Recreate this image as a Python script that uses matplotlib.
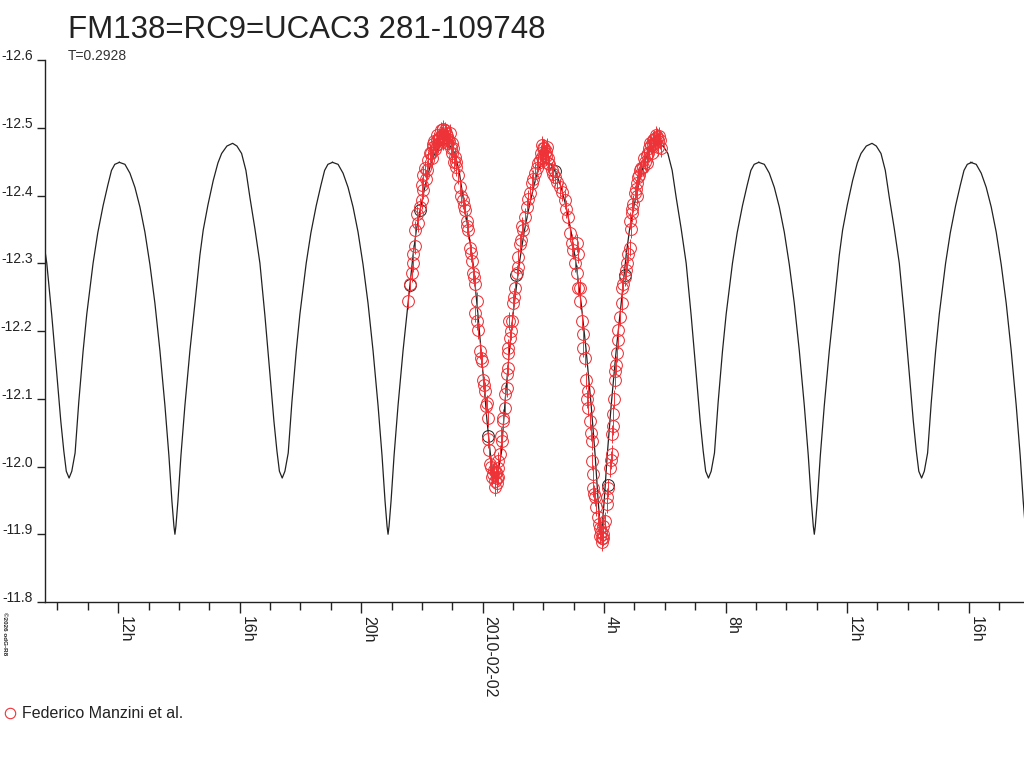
import numpy as np
import matplotlib
matplotlib.use('Agg')
import matplotlib.pyplot as plt
from matplotlib.lines import Line2D
from matplotlib.ticker import MultipleLocator

plt.rcParams['font.family'] = ['Liberation Sans', 'DejaVu Sans']

# model light curve, one cycle (hours from primary minimum, magnitude)
phase_h = [-1.834, -1.646, -1.482, -1.317, -1.152, -0.988, -0.823, -0.659, -0.494,
           -0.329, -0.198, -0.099, -0.033, 0.000, 0.033, 0.099, 0.198, 0.329, 0.494,
           0.659, 0.823, 0.932, 1.087, 1.261, 1.416, 1.538, 1.712, 1.900, 2.042,
           2.196, 2.338, 2.470, 2.634, 2.799, 2.963, 3.128, 3.260, 3.359, 3.441,
           3.533, 3.622, 3.731, 3.852, 3.994, 4.116, 4.323, 4.478, 4.653, 4.807,
           4.929, 5.038, 5.193]
model_mag = [-12.449, -12.446, -12.433, -12.412, -12.383, -12.346, -12.298, -12.241, -12.171,
             -12.090, -12.016, -11.949, -11.912, -11.900, -11.912, -11.949, -12.016, -12.090,
             -12.171, -12.241, -12.312, -12.349, -12.386, -12.422, -12.448, -12.462, -12.473,
             -12.477, -12.473, -12.462, -12.437, -12.397, -12.351, -12.300, -12.223, -12.137,
             -12.067, -12.023, -11.993, -11.983, -11.993, -12.020, -12.095, -12.170, -12.225,
             -12.300, -12.345, -12.385, -12.415, -12.437, -12.446, -12.449]
# times of primary minima (hours since 2010-02-01 00:00)
min_times = [6.850, 13.868, 20.886, 27.904, 34.922, 41.900]

# observations (hours since 2010-02-01 00:00, magnitude)
obs_h = [21.54, 21.61, 21.66, 21.72, 21.77, 21.78, 21.88, 21.94, 21.99, 22.04, 22.05, 22.16,
         22.21, 22.27, 22.32, 22.37, 22.43, 22.49, 22.54, 22.59, 22.65, 22.70, 22.76, 22.82,
         22.87, 22.92, 22.98, 23.03, 23.09, 23.14, 23.20, 23.25, 23.36, 23.42, 23.47, 23.53,
         23.58, 23.64, 23.69, 23.75, 23.80, 23.76, 23.86, 23.91, 23.97, 24.02, 24.08, 24.13,
         24.18, 24.19, 24.24, 24.35, 24.38, 24.40, 24.43, 24.46, 24.48, 24.51, 24.52, 24.57,
         24.63, 24.68, 24.73, 24.79, 24.84, 24.85, 24.88,
         24.52, 24.62, 24.67, 24.74, 24.80, 24.85, 24.90, 24.96, 25.01, 25.06, 25.12, 25.17,
         25.23, 25.34, 25.39, 25.45, 25.56, 25.61, 25.72, 25.83, 25.94, 25.99, 26.00, 26.05,
         26.10, 26.15, 26.16, 26.27, 26.38, 26.55, 26.71, 26.82, 26.88, 26.98, 27.04, 27.10,
         27.10, 27.15, 27.15, 27.20, 27.21, 27.26, 27.31, 27.32, 27.37, 27.42, 27.48, 27.48,
         27.53, 27.59, 27.59, 27.64, 27.64, 27.70, 27.75, 27.80, 27.86, 27.90, 27.92, 27.93,
         27.95, 27.98,
         28.03, 28.08, 28.14, 28.19, 28.25, 28.25, 28.30, 28.33, 28.36, 28.36, 28.41, 28.47,
         28.47, 28.58, 28.58, 28.69, 28.74, 28.79, 28.85, 28.85, 28.91, 28.96, 29.02, 29.07,
         29.10, 29.12, 29.18, 29.29, 29.30, 29.40, 29.45, 29.51, 29.57, 29.62, 29.68, 29.73,
         29.78, 29.84, 29.86,
         22.30, 22.35, 22.40, 22.45, 22.50, 22.56, 22.62, 22.68, 22.73, 22.79, 22.84, 22.90,
         22.95, 23.00, 23.06, 23.12, 22.10, 22.12, 22.00, 21.85, 21.70,
         23.30, 23.40, 23.50, 23.62, 23.72, 23.83, 23.94, 24.05, 24.10, 24.22, 24.28, 24.31,
         24.42, 24.45,
         24.93, 25.04, 25.15, 25.27, 25.30, 25.50, 25.66, 25.78, 25.88, 25.92, 25.97, 26.03,
         26.08, 26.12, 26.20, 26.32, 26.45, 26.60, 26.76, 26.93,
         27.45, 27.56, 27.67, 27.83, 27.88, 27.97,
         28.10, 28.22, 28.28, 28.39, 28.52, 28.63, 28.71, 28.88, 28.93, 29.05, 29.15, 29.22,
         29.35, 29.42, 29.48, 29.54, 29.60, 29.65, 29.70, 29.76, 29.81]
obs_mag = [-12.245, -12.270, -12.285, -12.314, -12.326, -12.349, -12.359, -12.383, -12.393,
           -12.408, -12.430, -12.437, -12.452, -12.462, -12.455, -12.471, -12.468, -12.482,
           -12.476, -12.486, -12.490, -12.480, -12.496, -12.488, -12.484, -12.492, -12.477,
           -12.470, -12.457, -12.442, -12.430, -12.412, -12.393, -12.378, -12.363, -12.349,
           -12.323, -12.304, -12.285, -12.270, -12.245, -12.226, -12.201, -12.171, -12.156,
           -12.127, -12.112, -12.093, -12.072, -12.040, -12.004, -11.989, -11.995, -11.978,
           -11.990, -11.983, -11.975, -11.998, -11.985, -12.019, -12.038, -12.067, -12.087,
           -12.116, -12.146, -12.175, -12.215,
           -12.008, -12.045, -12.072, -12.107, -12.137, -12.167, -12.190, -12.215, -12.241,
           -12.264, -12.285, -12.309, -12.329, -12.349, -12.368, -12.383, -12.403, -12.418,
           -12.433, -12.448, -12.457, -12.470, -12.452, -12.462, -12.466, -12.455, -12.448,
           -12.437, -12.427, -12.412, -12.393, -12.368, -12.344, -12.319, -12.300, -12.285,
           -12.330, -12.264, -12.314, -12.245, -12.264, -12.215, -12.196, -12.175, -12.160,
           -12.127, -12.112, -12.087, -12.067, -12.038, -12.008, -11.989, -11.968, -11.955,
           -11.940, -11.925, -11.909, -11.903, -11.894, -11.888, -11.900, -11.912,
           -11.920, -11.945, -11.968, -11.998, -12.019, -12.048, -12.078, -12.100, -12.127,
           -12.141, -12.167, -12.186, -12.201, -12.241, -12.264, -12.279, -12.300, -12.314,
           -12.323, -12.363, -12.374, -12.388, -12.403, -12.418, -12.400, -12.427, -12.437,
           -12.442, -12.455, -12.448, -12.462, -12.477, -12.462, -12.482, -12.478, -12.486,
           -12.471, -12.482, -12.470,
           -12.462, -12.476, -12.480, -12.474, -12.490, -12.484, -12.496, -12.498, -12.486,
           -12.492, -12.478, -12.480, -12.470, -12.462, -12.450, -12.450, -12.440, -12.425,
           -12.415, -12.372, -12.300,
           -12.400, -12.385, -12.355, -12.315, -12.280, -12.215, -12.160, -12.120, -12.090,
           -12.025, -12.000, -11.985, -11.970, -11.992,
           -12.200, -12.250, -12.295, -12.335, -12.355, -12.395, -12.425, -12.440, -12.452,
           -12.462, -12.475, -12.470, -12.458, -12.472, -12.446, -12.432, -12.420, -12.405,
           -12.380, -12.330,
           -12.100, -12.050, -11.960, -11.915, -11.898, -11.895,
           -11.955, -12.010, -12.060, -12.150, -12.220, -12.270, -12.290, -12.350, -12.380,
           -12.410, -12.430, -12.440, -12.450, -12.460, -12.470, -12.474, -12.476, -12.484,
           -12.490, -12.480, -12.488]
obs_err = 0.013

# a few points of a second set, drawn in black below the red ones
blk_h = [21.62, 21.93, 24.19, 25.10, 26.40, 28.14, 28.69]
blk_mag = [-12.268, -12.378, -12.045, -12.282, -12.436, -11.972, -12.282]

y_ticks = [-12.6, -12.5, -12.4, -12.3, -12.2, -12.1, -12.0, -11.9, -11.8]
x_major = [12, 16, 20, 24, 28, 32, 36, 40]
x_labels = ['12h', '16h', '20h', '2010-02-02', '4h', '8h', '12h', '16h']

red = '#ee3338'
dark = '#222222'

fig = plt.figure(figsize=(10.24, 7.68), dpi=100)
ax = fig.add_axes([45 / 1024, 1 - 602 / 768, 980 / 1024, 542 / 768])

for t0 in min_times:
    ax.plot(t0 + np.array(phase_h), model_mag, color=dark, lw=0.9, zorder=3)

ax.plot(blk_h, blk_mag, 'o', mfc='none', mec=dark, ms=8.5, mew=0.7, zorder=2)
ax.errorbar(obs_h, obs_mag, yerr=obs_err, fmt='none', ecolor=red, elinewidth=0.7,
            capsize=0, zorder=4)
ax.plot(obs_h, obs_mag, 'o', mfc='none', mec=red, ms=8.5, mew=0.75, zorder=5)

ax.set_xlim(9.59, 41.86)
ax.set_ylim(-11.8, -12.6)

for s in ['top', 'right']:
    ax.spines[s].set_visible(False)
for s in ['left', 'bottom']:
    ax.spines[s].set_linewidth(1.0)
    ax.spines[s].set_color(dark)

ax.set_yticks(y_ticks)
ax.set_yticklabels(['%.1f' % v for v in y_ticks], fontsize=10, color=dark)
for lbl in ax.get_yticklabels():
    lbl.set_va('baseline')
ax.tick_params(axis='y', length=6, width=1, pad=3, color=dark)

ax.set_xticks(x_major)
ax.set_xticklabels(x_labels, fontsize=11.5, color=dark, rotation=-90, ha='left', va='top')
ax.xaxis.set_minor_locator(MultipleLocator(1))
ax.tick_params(axis='x', which='major', length=8, width=1, pad=2, color=dark)
ax.tick_params(axis='x', which='minor', length=5.5, width=1, color=dark)

fig.text(68 / 1024, 1 - 38.5 / 768, 'FM138=RC9=UCAC3 281-109748', fontsize=22.5,
         color=dark, va='baseline', ha='left')
fig.text(68 / 1024, 1 - 59.5 / 768, 'T=0.2928', fontsize=10, color='#333333',
         va='baseline', ha='left')
fig.text(1.5 / 1024, 1 - 612 / 768, '\u00a92026 odG-R8', fontsize=4.5, fontweight='bold',
         rotation=-90, va='top', ha='left', color=dark)

fig.add_artist(Line2D([9.5 / 1024], [1 - 713 / 768], transform=fig.transFigure, marker='o',
                      mfc='none', mec=red, ms=7.5, mew=0.8, ls='none'))
fig.text(21.5 / 1024, 1 - 713 / 768, 'Federico Manzini et al.', fontsize=11.5, color=dark,
         va='center', ha='left')

fig.savefig('out.png', dpi=100)
